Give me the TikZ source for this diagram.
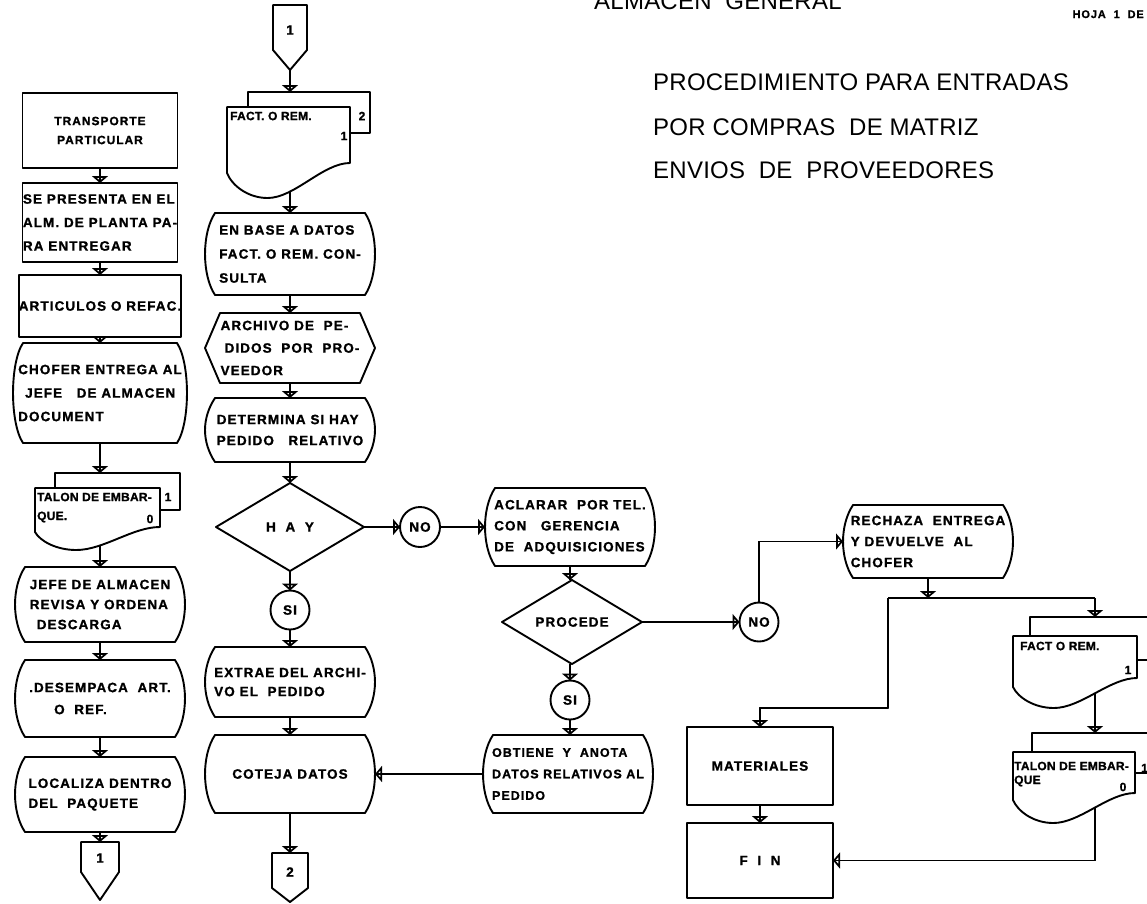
\documentclass[tikz,border=0pt]{standalone}
\usepackage{fontspec}
\setmainfont{Liberation Sans}
\newfontfamily\lettering{Liberation Sans}[LetterSpace=8, BoldFeatures={FakeBold=1.2}]
\newfontfamily\docfont{Liberation Sans}[LetterSpace=2, BoldFeatures={FakeBold=1.2}]
\newfontfamily\titlefont{Liberation Sans}[LetterSpace=1]
\usetikzlibrary{arrows.meta,calc}
\pgfdeclarelayer{conn}
\pgfdeclarelayer{outl}
\pgfsetlayers{conn,outl,main}

\tikzset{
  ln/.style={line width=1.9pt, line join=round},
  arr/.style={ln, -{Triangle[open,width=16pt,length=7pt]}, postaction={draw,arrows=-}},
  txt/.style 2 args={font=\lettering\bfseries\fontsize{#1}{#2}\selectfont},
  lbl/.style={txt={13.5}{23}, inner sep=0pt, outer sep=0pt, align=left},
  boxnode/.style={lbl, draw, ln, fill=white, rectangle},
  dispnode/.style={lbl, rectangle},
  roundnode/.style={lbl, circle, draw, ln, fill=white, minimum size=39pt},
  doclbl/.style={font=\docfont\bfseries\fontsize{12}{14}\selectfont, inner sep=0pt},
  ttl/.style={font=\titlefont\fontsize{24}{28}\selectfont, inner sep=0pt, anchor=base west},
}

% invisible node covering a rectangle, used for anchors
\newcommand\areanode[5]{\node[inner sep=0pt,outer sep=0pt,minimum width={(#4-#2)*1pt},minimum height={(#5-#3)*1pt}] (#1) at ({(#2+#4)/2},{(#3+#5)/2}) {};}

% operation box with bulging left and right sides
\newcommand\displine[1]{%
  \begin{pgfonlayer}{outl}
  \draw[ln,fill=white] ($(#1.north west)+(10,0)$) -- ($(#1.north east)+(-10,0)$)
    .. controls ($(#1.north east)+(3.3,20)$) and ($(#1.south east)+(3.3,-20)$) .. ($(#1.south east)+(-10,0)$)
    -- ($(#1.south west)+(10,0)$)
    .. controls ($(#1.south west)+(-3.3,-20)$) and ($(#1.north west)+(-3.3,20)$) .. cycle;
  \end{pgfonlayer}}

% decision diamond
\newcommand\diamondline[1]{%
  \begin{pgfonlayer}{outl}
  \draw[ln,fill=white] (#1.north) -- (#1.east) -- (#1.south) -- (#1.west) -- cycle;
  \end{pgfonlayer}}

% file hexagon
\newcommand\hexline[1]{%
  \begin{pgfonlayer}{outl}
  \draw[ln,fill=white] (#1.west) -- ($(#1.north west)+(15,0)$) -- ($(#1.north east)+(-15,0)$)
    -- (#1.east) -- ($(#1.south east)+(-15,0)$) -- ($(#1.south west)+(15,0)$) -- cycle;
  \end{pgfonlayer}}

% off-page connector: name, x0, x1, top, side bottom, point
\newcommand\offpage[6]{%
  \node[inner sep=0pt,outer sep=0pt,minimum width={(#3-#2)*1pt},minimum height={(#6-#4)*1pt}] (#1) at ({(#2+#3)/2},{(#4+#6)/2}) {};
  \begin{pgfonlayer}{outl}
  \draw[ln,fill=white] (#2,#4) -- (#3,#4) -- (#3,#5) -- ({(#2+#3)/2},#6) -- (#2,#5) -- cycle;
  \end{pgfonlayer}}

% document sheet: x0, top, x1, right bottom, left bottom, lowest point of wave
\newcommand\docfront[6]{%
  \begin{pgfonlayer}{outl}
  \draw[ln,fill=white] (#1,#5) -- (#1,#2) -- (#3,#2) -- (#3,#4)
    .. controls ({#3-0.22*(#3-#1)},#4) and ({#1+0.55*(#3-#1)},#6) .. ({#1+0.33*(#3-#1)},#6)
    .. controls ({#1+0.17*(#3-#1)},#6) and ({#1+0.04*(#3-#1)},{#5+0.5*(#6-#5)}) .. (#1,#5) -- cycle;
  \end{pgfonlayer}}

% copy sheet behind a document: x0, top, x1, bottom, front right, front top
\newcommand\docback[6]{%
  \begin{pgfonlayer}{outl}
  \draw[ln] (#1,#6) -- (#1,#2) -- (#3,#2) -- (#3,#4) -- (#5,#4);
  \end{pgfonlayer}}

\begin{document}
\begin{tikzpicture}[x=1pt,y=-1pt]
\useasboundingbox (0,0) rectangle (1147,903);
\begin{pgfonlayer}{conn}
  \fill[white] (0,0) rectangle (1147,903);
\end{pgfonlayer}

% ---------- heading ----------
\node[ttl] (hdr) at (594,9) {ALMACEN \ GENERAL};
\node[anchor=base east, inner sep=0pt, font=\lettering\bfseries\fontsize{11}{13}\selectfont] (hoja) at (1144,18) {HOJA \ 1 \ DE};
\node[ttl] (ttl1) at (653,90) {PROCEDIMIENTO PARA ENTRADAS};
\node[ttl] (ttl2) at (653,135) {POR COMPRAS \ DE MATRIZ};
\node[ttl] (ttl3) at (653,178) {ENVIOS \ DE \ PROVEEDORES};

% ---------- left column ----------
\node[boxnode, txt={12}{19}, align=center, minimum width=155pt, minimum height=75pt] (tp) at (100,130.5) {TRANSPORTE\\PARTICULAR};
\node[boxnode, txt={13.5}{23.5}, minimum width=155pt, minimum height=79pt] (sp) at (100,222.5) {SE PRESENTA EN EL\\ALM. DE PLANTA PA-\\RA ENTREGAR};
\node[boxnode, minimum width=155pt, minimum height=62pt] (ar) at (100,306) {ARTICULOS O REFAC.};
\node[dispnode, txt={13.5}{23.5}, minimum width=174pt, minimum height=100pt] (ch) at (100,393) {CHOFER ENTREGA AL\\\hspace*{7pt}JEFE \ \ DE ALMACEN\\DOCUMENT};
\displine{ch}

\docback{55}{473}{180}{510}{160}{488}
\docfront{35}{488}{160}{527}{532}{550}
\areanode{talL}{35}{488}{160}{532}
\areanode{talLb}{55}{473}{180}{510}
\node[doclbl, anchor=west] (talLa) at (37,497) {TALON DE EMBAR-};
\node[doclbl, anchor=west] (talLb2) at (37,517) {QUE.};
\node[doclbl] (talLc) at (168,497) {1};
\node[doclbl] (talLd) at (150,519) {0};

\node[dispnode, txt={13.5}{20}, minimum width=170pt, minimum height=75pt] (jefe) at (100,604.5) {JEFE DE ALMACEN\\REVISA Y ORDENA\\\hspace*{7pt}DESCARGA};
\displine{jefe}
\node[dispnode, txt={13.5}{22}, minimum width=170pt, minimum height=77pt] (des) at (100,698.5) {.DESEMPACA \ ART.\\\hspace*{25pt}O \ REF.};
\displine{des}
\node[dispnode, txt={13.5}{20}, minimum width=170pt, minimum height=75pt] (loc) at (100,794.5) {LOCALIZA DENTRO\\DEL \ PAQUETE};
\displine{loc}
\offpage{c1b}{81}{119}{842}{872}{900}
\node[lbl] (c1bt) at (100,858) {1};

% ---------- second column ----------
\offpage{c1t}{273}{307}{5}{50}{70}
\node[lbl] (c1tt) at (290,30) {1};

\docback{248}{92}{370}{133}{350}{107}
\docfront{227}{107}{350}{163}{173}{198}
\areanode{factM}{227}{107}{350}{173}
\areanode{factMb}{248}{92}{370}{133}
\node[doclbl, anchor=west] (factMa) at (230,116) {FACT. O REM.};
\node[doclbl] (factMc) at (362,116) {2};
\node[doclbl] (factMd) at (344,136) {1};

\node[dispnode, txt={13.5}{24}, minimum width=170pt, minimum height=82pt] (eb) at (290,254) {EN BASE A DATOS\\FACT. O REM. CON-\\SULTA};
\displine{eb}
\node[dispnode, txt={13.5}{22.5}, minimum width=170pt, minimum height=70pt] (arc) at (290,348) {ARCHIVO DE \ PE-\\\hspace*{4pt}DIDOS \ POR \ PRO-\\VEEDOR};
\hexline{arc}
\node[dispnode, txt={13.5}{21}, minimum width=170pt, minimum height=64pt] (det) at (290,430) {DETERMINA SI HAY\\PEDIDO \ \ RELATIVO};
\displine{det}
\node[lbl, minimum width=148pt, minimum height=88pt] (hay) at (290,527) {H \ A \ Y};
\diamondline{hay}
\node[roundnode] (si1) at (290,610) {SI};
\node[dispnode, txt={13.5}{19}, minimum width=170pt, minimum height=70pt] (ex) at (290,682) {EXTRAE DEL ARCHI-\\VO EL \ PEDIDO};
\displine{ex}
\node[dispnode, minimum width=170pt, minimum height=78pt] (cot) at (290,774) {COTEJA DATOS};
\displine{cot}
\offpage{c2}{272}{308}{853}{888}{902}
\node[lbl] (c2t) at (290,872) {2};

% ---------- third column ----------
\node[roundnode, minimum size=40pt] (no1) at (420,527) {NO};
\node[dispnode, txt={13.5}{21}, minimum width=170pt, minimum height=78pt] (acl) at (570,527) {ACLARAR \ POR TEL.\\CON \ \ GERENCIA\\DE \ ADQUISICIONES};
\displine{acl}
\node[lbl, minimum width=140pt, minimum height=84pt] (proc) at (572,622) {PROCEDE};
\diamondline{proc}
\node[roundnode] (si2) at (570,700) {SI};
\node[dispnode, txt={12.5}{21.5}, minimum width=170pt, minimum height=78pt] (obt) at (568,774) {OBTIENE \ Y \ ANOTA\\DATOS RELATIVOS AL\\PEDIDO};
\displine{obt}

% ---------- right part ----------
\node[roundnode] (no2) at (759,622) {NO};
\node[dispnode, txt={13.5}{21}, minimum width=170pt, minimum height=73pt] (rech) at (928,541.5) {RECHAZA \ ENTREGA\\Y DEVUELVE \ AL\\CHOFER};
\displine{rech}
\node[boxnode, minimum width=146pt, minimum height=78pt] (mat) at (760,766) {MATERIALES};
\node[boxnode, minimum width=146pt, minimum height=75pt] (fin) at (760,860.5) {F \ I \ N};

\docback{1030}{617}{1175}{660}{1137}{636}
\docfront{1013}{636}{1137}{678}{687}{708}
\areanode{factR}{1013}{636}{1137}{687}
\areanode{factRb}{1030}{617}{1175}{660}
\node[doclbl, anchor=west] (factRa) at (1020,646) {FACT O REM.};
\node[doclbl] (factRc) at (1128,670) {1};

\docback{1032}{733}{1175}{773}{1135}{752}
\docfront{1013}{752}{1135}{793}{800}{823}
\areanode{talR}{1013}{752}{1135}{800}
\areanode{talRb}{1032}{733}{1175}{773}
\node[doclbl, anchor=west] (talRa) at (1014,766) {TALON DE EMBAR-};
\node[doclbl, anchor=west] (talRb2) at (1014,781) {QUE};
\node[doclbl] (talRc) at (1123,787) {0};
\node[doclbl, anchor=west] (talRd) at (1141,768) {1};

\coordinate (jl) at (888,598);
\coordinate (jr) at (1095,598);
\coordinate (kl) at (888,708);

% ---------- connectors ----------
\begin{pgfonlayer}{conn}
\draw[arr] (tp.south) -- (sp.north);
\draw[arr] (sp.south) -- (ar.north);
\draw[arr] (ar.south) -- (ch.north);
\draw[arr] (ch.south) -- (ch.south |- talLb.north);
\draw[arr] (jefe.north |- talL.center) -- (jefe.north);
\draw[arr] (jefe.south) -- (des.north);
\draw[arr] (des.south) -- (loc.north);
\draw[arr] (loc.south) -- (c1b.north);

\draw[arr] (c1t.south) -- (c1t.south |- factMb.north);
\draw[arr] (eb.north |- factM.center) -- (eb.north);
\draw[arr] (eb.south) -- (arc.north);
\draw[arr] (arc.south) -- (det.north);
\draw[arr] (det.south) -- (hay.north);
\draw[arr] (hay.south) -- (si1.north);
\draw[arr] (si1.south) -- (ex.north);
\draw[arr] (ex.south) -- (cot.north);
\draw[arr] (cot.south) -- (c2.north);

\draw[arr] (hay.east) -- (no1.west);
\draw[arr] (no1.east) -- (acl.west);
\draw[arr] (si2.north |- acl.south) -- (si2.north |- proc.north);
\draw[arr] (si2.north |- proc.south) -- (si2.north);
\draw[arr] (si2.south) -- (si2.south |- obt.north);
\draw[arr] (obt.west) -- (cot.east);

\draw[arr] (proc.east) -- (no2.west);
\draw[arr] (no2.north) |- (rech.west);
\draw[arr] (rech.south) -- (rech.south |- jl);
\draw[ln] (jl) -- (jr);
\draw[arr] (jl) -- (kl) -| (mat.north);
\draw[arr] (mat.south) -- (fin.north);
\draw[arr] (jr) -- (jr |- factRb.north);
\draw[arr] (jr |- factR.center) -- (jr |- talRb.north);
\draw[arr] (jr |- talR.center) |- (fin.east);
\end{pgfonlayer}
\end{tikzpicture}
\end{document}
